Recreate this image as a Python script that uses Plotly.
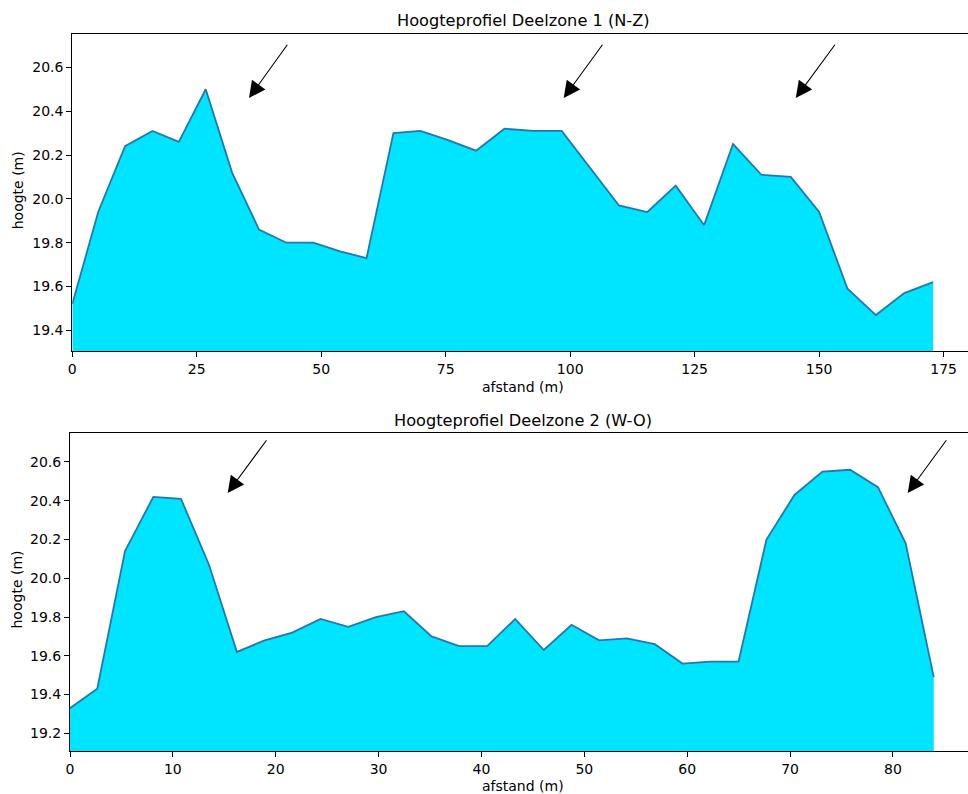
import plotly.graph_objects as go

# ---- Data: Deelzone 1 (N-Z) ----
afstand_1 = [0.0, 5.2, 10.6, 16.1, 21.4, 26.8, 32.1, 37.5, 43.0, 48.4, 53.8, 59.1,
             64.5, 69.9, 75.2, 81.1, 86.8, 92.6, 98.3, 104.0, 109.8, 115.5, 121.2,
             126.9, 132.7, 138.4, 144.3, 150.0, 155.7, 161.4, 167.1, 172.9]
hoogte_1 = [19.52, 19.94, 20.24, 20.31, 20.26, 20.50, 20.12, 19.86, 19.80, 19.80,
            19.76, 19.73, 20.30, 20.31, 20.27, 20.22, 20.32, 20.31, 20.31, 20.14,
            19.97, 19.94, 20.06, 19.88, 20.25, 20.11, 20.10, 19.94, 19.59, 19.47,
            19.57, 19.62]

# ---- Data: Deelzone 2 (W-O) ----
afstand_2 = [0.0, 2.65, 5.35, 8.10, 10.79, 13.51, 16.23, 18.92, 21.60, 24.36, 27.05,
             29.74, 32.46, 35.15, 37.83, 40.55, 43.28, 46.06, 48.76, 51.44, 54.13,
             56.85, 59.54, 62.26, 64.99, 67.71, 70.43, 73.15, 75.83, 78.55, 81.24,
             83.97]
hoogte_2 = [19.33, 19.43, 20.14, 20.42, 20.41, 20.07, 19.62, 19.68, 19.72, 19.79,
            19.75, 19.80, 19.83, 19.70, 19.65, 19.65, 19.79, 19.63, 19.76, 19.68,
            19.69, 19.66, 19.56, 19.57, 19.57, 20.20, 20.43, 20.55, 20.56, 20.47,
            20.18, 19.49]

# ---- Arrow annotations (head tip and tail, data coords) ----
pijl_1_x = [35.5, 98.7, 145.3]
pijl_1_y = [20.46, 20.46, 20.46]
pijl_1_tail_x = [43.4, 106.7, 153.4]
pijl_1_tail_y = [20.71, 20.71, 20.71]

pijl_2_x = [15.33, 81.44]
pijl_2_y = [20.44, 20.44]
pijl_2_tail_x = [19.21, 85.30]
pijl_2_tail_y = [20.72, 20.72]

titels = ["Hoogteprofiel Deelzone 1 (N-Z)", "Hoogteprofiel Deelzone 2 (W-O)"]
x_label = "afstand (m)"
y_label = "hoogte (m)"

W, H = 968, 794
FILL = "#00E5FF"
LINE = "#1f77b4"
FONT = "DejaVu Sans"
FS = 14

fig = go.Figure()
fig.add_trace(go.Scatter(x=afstand_1, y=hoogte_1, mode="lines", fill="tozeroy",
                         fillcolor=FILL, line=dict(color=LINE, width=1.8),
                         xaxis="x", yaxis="y", showlegend=False))
fig.add_trace(go.Scatter(x=afstand_2, y=hoogte_2, mode="lines", fill="tozeroy",
                         fillcolor=FILL, line=dict(color=LINE, width=1.8),
                         xaxis="x2", yaxis="y2", showlegend=False))

def px_x(p):
    return p / W

def px_y(p):
    return 1 - p / H

axis_common = dict(showline=True, linecolor="black", linewidth=1.1, ticks="outside",
                   ticklen=5, tickwidth=1.1, tickcolor="black", showgrid=False,
                   zeroline=False, automargin=False,
                   tickfont=dict(family=FONT, size=FS, color="black"))

fig.update_layout(
    width=W, height=H,
    margin=dict(l=0, r=0, t=0, b=0, autoexpand=False),
    paper_bgcolor="white", plot_bgcolor="white",
    font=dict(family=FONT, size=FS, color="black"),
    xaxis=dict(domain=[px_x(72.3), 1.0], range=[0, 179.9], tick0=0, dtick=25,
               mirror=True, anchor="y", **axis_common),
    yaxis=dict(domain=[px_y(351), px_y(34)], range=[19.306, 20.752], tick0=19.4,
               dtick=0.2, tickformat=".1f", anchor="x", **axis_common),
    xaxis2=dict(domain=[px_x(70), 1.0], range=[0, 87.3], tick0=0, dtick=10,
                mirror=True, anchor="y2", **axis_common),
    yaxis2=dict(domain=[px_y(751), px_y(433.3)], range=[19.109, 20.748], tick0=19.2,
                dtick=0.2, tickformat=".1f", anchor="x2", **axis_common),
)

ann = []
for xh, yh, xt, yt in zip(pijl_1_x, pijl_1_y, pijl_1_tail_x, pijl_1_tail_y):
    ann.append(dict(x=xh, y=yh, ax=xt, ay=yt, xref="x", yref="y", axref="x", ayref="y",
                    text="", showarrow=True, arrowhead=2, arrowsize=3.0, arrowwidth=1.1,
                    arrowcolor="black", standoff=0))
for xh, yh, xt, yt in zip(pijl_2_x, pijl_2_y, pijl_2_tail_x, pijl_2_tail_y):
    ann.append(dict(x=xh, y=yh, ax=xt, ay=yt, xref="x2", yref="y2", axref="x2", ayref="y2",
                    text="", showarrow=True, arrowhead=2, arrowsize=3.0, arrowwidth=1.1,
                    arrowcolor="black", standoff=0))

# titles
for t, yc in zip(titels, [20.5, 421]):
    ann.append(dict(x=px_x(523), y=px_y(yc), xref="paper", yref="paper", text=t,
                    showarrow=False, xanchor="center", yanchor="middle",
                    font=dict(family=FONT, size=16.2, color="black")))
# x labels
for yc in [386.5, 786]:
    ann.append(dict(x=px_x(523), y=px_y(yc), xref="paper", yref="paper", text=x_label,
                    showarrow=False, xanchor="center", yanchor="middle",
                    font=dict(family=FONT, size=FS, color="black")))
# y labels
for xc, yc in [(18.3, 190), (16.5, 590)]:
    ann.append(dict(x=px_x(xc), y=px_y(yc), xref="paper", yref="paper", text=y_label,
                    showarrow=False, xanchor="center", yanchor="middle", textangle=-90,
                    font=dict(family=FONT, size=FS, color="black")))

fig.update_layout(annotations=ann)
fig.write_html("out.html", config={"displayModeBar": False},
               post_script="document.body.style.margin='0px';document.body.style.overflow='hidden';")
